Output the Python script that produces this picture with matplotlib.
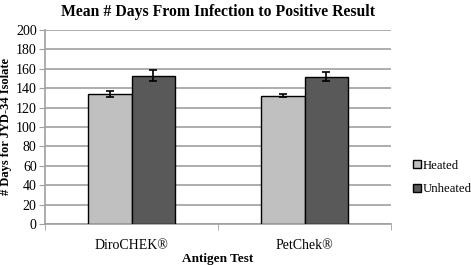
import numpy as np
import matplotlib.pyplot as plt

plt.rcParams['font.family'] = 'Liberation Serif'

tests = ["DiroCHEK®", "PetChek®"]
heated = [134, 132]
heated_err = [3, 1.5]
unheated = [153, 152]
unheated_err = [6, 5]

fig = plt.figure(figsize=(4.71, 2.65), dpi=100)
ax = fig.add_axes([0.0955, 0.155, 0.735, 0.732])

x = np.arange(len(tests))
w = 0.25
ax.bar(x - w/2, heated, w, yerr=heated_err, color="#c0c0c0", edgecolor="black",
       linewidth=1, capsize=3, error_kw=dict(elinewidth=1.2, capthick=1.2), label="Heated", zorder=3)
ax.bar(x + w/2, unheated, w, yerr=unheated_err, color="#595959", edgecolor="black",
       linewidth=1, capsize=3, error_kw=dict(elinewidth=1.2, capthick=1.2), label="Unheated", zorder=3)

ax.set_xlim(-0.5, 1.5)
ax.set_ylim(0, 200)
ax.set_yticks(np.arange(0, 201, 20))
ax.yaxis.grid(True, color="#a0a0a0", linewidth=1.2)
ax.set_axisbelow(True)
ax.set_xticks(x)
ax.set_xticklabels(tests, fontsize=10)
ax.tick_params(axis='x', length=0, pad=11)
ax.set_xticks([-0.5, 0.5, 1.5], minor=True)
ax.tick_params(axis='x', which='minor', length=4, color="#a0a0a0")
ax.tick_params(axis='y', labelsize=10, length=4, color="#a0a0a0", pad=2)
for s in ["top", "right"]:
    ax.spines[s].set_visible(False)
for s in ["left", "bottom"]:
    ax.spines[s].set_color("#a0a0a0")
    ax.spines[s].set_linewidth(1.2)

ax.set_title("Mean # Days From Infection to Positive Result", fontsize=11.3, fontweight="bold", pad=10)
ax.set_xlabel("Antigen Test", fontsize=9.5, fontweight="bold")
ax.xaxis.set_label_coords(0.5, -0.15)
ax.set_ylabel("# Days for JYD-34 Isolate", fontsize=9, fontweight="bold", labelpad=3)

ax.legend(loc="center left", bbox_to_anchor=(1.048, 0.24), frameon=False, fontsize=9.2,
          handlelength=0.6, handleheight=0.6, handletextpad=0.2, labelspacing=0.9,
          borderaxespad=0)

fig.savefig("out.png", dpi=100)
